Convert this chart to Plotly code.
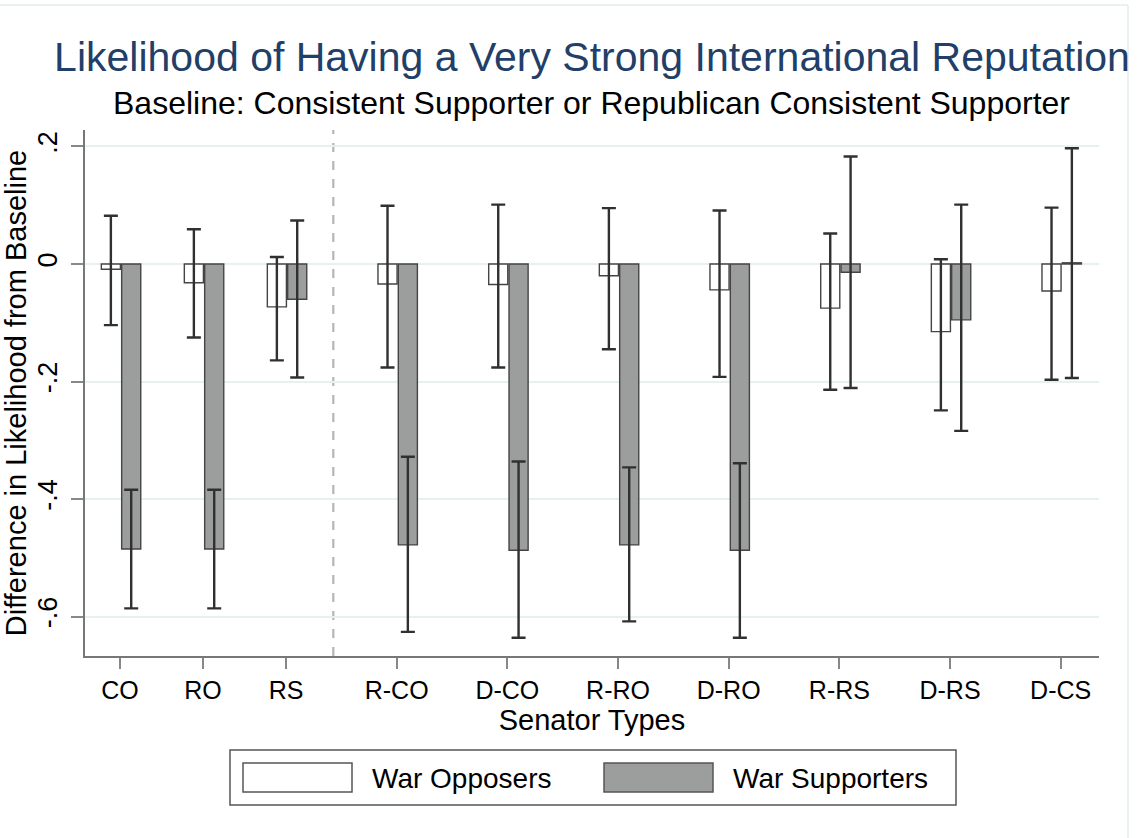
import plotly.graph_objects as go

# ---------------- data ----------------
categories = ["CO", "RO", "RS", "R-CO", "D-CO", "R-RO", "D-RO", "R-RS", "D-RS", "D-CS"]
# category positions on the x axis (first block narrower spacing, as in original)
cat_pos = [0, 1, 2, 3.333, 4.667, 6.0, 7.333, 8.667, 10.0, 11.333]

opp_val = [-0.009, -0.032, -0.073, -0.034, -0.035, -0.020, -0.044, -0.075, -0.115, -0.046]
opp_hi  = [0.082, 0.059, 0.012, 0.099, 0.101, 0.095, 0.091, 0.052, 0.008, 0.096]
opp_lo  = [-0.104, -0.125, -0.164, -0.176, -0.176, -0.145, -0.192, -0.214, -0.249, -0.197]

sup_val = [-0.485, -0.485, -0.060, -0.478, -0.487, -0.478, -0.487, -0.014, -0.095, 0.002]
sup_hi  = [-0.384, -0.384, 0.074, -0.328, -0.336, -0.346, -0.339, 0.183, 0.101, 0.197]
sup_lo  = [-0.586, -0.586, -0.193, -0.626, -0.636, -0.608, -0.636, -0.211, -0.284, -0.194]

y_ticks = [0.2, 0, -0.2, -0.4, -0.6]
y_tick_labels = [".2", "0", "-.2", "-.4", "-.6"]
divider_x = 2.57

series_names = ["War Opposers", "War Supporters"]
FONT = "Liberation Sans, Arial, sans-serif"
GRAY_FILL = "#9c9e9d"
EDGE = "#444444"
ERR = "#303030"

fig = go.Figure()

fig.add_trace(go.Bar(
    x=cat_pos, y=opp_val, name=series_names[0],
    width=0.23, offset=-0.225,
    marker=dict(color="white", line=dict(color=EDGE, width=1.4)),
    error_y=dict(type="data", symmetric=False,
                 array=[h - v for h, v in zip(opp_hi, opp_val)],
                 arrayminus=[v - l for v, l in zip(opp_val, opp_lo)],
                 color=ERR, thickness=2.4, width=7),
    showlegend=False,
))
fig.add_trace(go.Bar(
    x=cat_pos, y=sup_val, name=series_names[1],
    width=0.23, offset=0.02,
    marker=dict(color=GRAY_FILL, line=dict(color=EDGE, width=1.4)),
    error_y=dict(type="data", symmetric=False,
                 array=[h - v for h, v in zip(sup_hi, sup_val)],
                 arrayminus=[v - l for v, l in zip(sup_val, sup_lo)],
                 color=ERR, thickness=2.4, width=7),
    showlegend=False,
))

# plot area in pixels: left 85, right 1099, top 130, bottom 656
L, R, T, B = 85, 1099, 130, 656
W, H = 1140, 838
def px(xp):
    return (xp - L) / (R - L)
def py(yp):
    return (B - yp) / (B - T)

shapes = []
# zero line
shapes.append(dict(type="line", xref="paper", yref="y", x0=0, x1=1, y0=0, y1=0,
                   line=dict(color="#5a5a5a", width=1.6), layer="below"))
# dashed divider
shapes.append(dict(type="line", xref="x", yref="paper", x0=divider_x, x1=divider_x, y0=0, y1=1,
                   line=dict(color="#b5b5b5", width=2.2, dash="dash"), layer="below"))
# faint outer frame (top and right)
shapes.append(dict(type="line", xref="paper", yref="paper", x0=px(-5), x1=px(1128), y0=py(5), y1=py(5),
                   line=dict(color="#e4ecee", width=1.5)))
shapes.append(dict(type="line", xref="paper", yref="paper", x0=px(1128), x1=px(1128), y0=py(5), y1=py(845),
                   line=dict(color="#e4ecee", width=1.5)))
# legend box
shapes.append(dict(type="rect", xref="paper", yref="paper", x0=px(230), x1=px(956), y0=py(750), y1=py(805),
                   line=dict(color="#555555", width=1.5), fillcolor="white"))
shapes.append(dict(type="rect", xref="paper", yref="paper", x0=px(243), x1=px(352), y0=py(763), y1=py(792),
                   line=dict(color="#555555", width=1.5), fillcolor="white"))
shapes.append(dict(type="rect", xref="paper", yref="paper", x0=px(604), x1=px(713), y0=py(763), y1=py(792),
                   line=dict(color="#555555", width=1.5), fillcolor=GRAY_FILL))

annotations = [
    dict(text="Baseline: Consistent Supporter or Republican Consistent Supporter",
         xref="paper", yref="paper", x=px(591), y=py(103), xanchor="center", yanchor="middle",
         showarrow=False, font=dict(family=FONT, size=32, color="black")),
    dict(text=series_names[0], xref="paper", yref="paper", x=px(370), y=py(778),
         xanchor="left", yanchor="middle", showarrow=False,
         font=dict(family=FONT, size=28, color="black")),
    dict(text=series_names[1], xref="paper", yref="paper", x=px(731), y=py(778),
         xanchor="left", yanchor="middle", showarrow=False,
         font=dict(family=FONT, size=28, color="black")),
]

fig.update_layout(
    width=W, height=H,
    margin=dict(l=L, r=W - R, t=T, b=H - B, pad=0, autoexpand=False),
    paper_bgcolor="white", plot_bgcolor="white",
    barmode="overlay",
    title=dict(text="Likelihood of Having a Very Strong International Reputation",
               x=592 / W, xanchor="center", y=1 - 57 / H, yanchor="middle", xref="container",
               font=dict(family=FONT, size=41, color="#213f69")),
    shapes=shapes, annotations=annotations,
    font=dict(family=FONT, color="black"),
)

fig.update_xaxes(
    range=[-0.4217, 11.795], tickvals=cat_pos, ticktext=categories,
    showgrid=False, zeroline=False, automargin=False,
    showline=True, linecolor="#777777", linewidth=1.6,
    ticks="outside", ticklen=11, tickwidth=1.6, tickcolor="#888888",
    tickfont=dict(family=FONT, size=25, color="black"),
    title=dict(text="Senator Types", standoff=0, font=dict(family=FONT, size=29, color="black")),
)
fig.update_yaxes(
    range=[-0.667, 0.228], tickvals=y_ticks, ticktext=y_tick_labels, tickangle=-90,
    showgrid=True, gridcolor="#e8f1f1", gridwidth=1.6, zeroline=False, automargin=False,
    showline=True, linecolor="#777777", linewidth=1.6,
    ticks="outside", ticklen=12, tickwidth=1.6, tickcolor="#888888",
    ticklabelstandoff=3,
    tickfont=dict(family=FONT, size=27, color="black"),
    title=dict(text="Difference in Likelihood from Baseline", standoff=0,
               font=dict(family=FONT, size=29, color="black")),
)

fig.write_html("out.html", config={"displayModeBar": False},
               post_script="document.body.style.margin='0';")
